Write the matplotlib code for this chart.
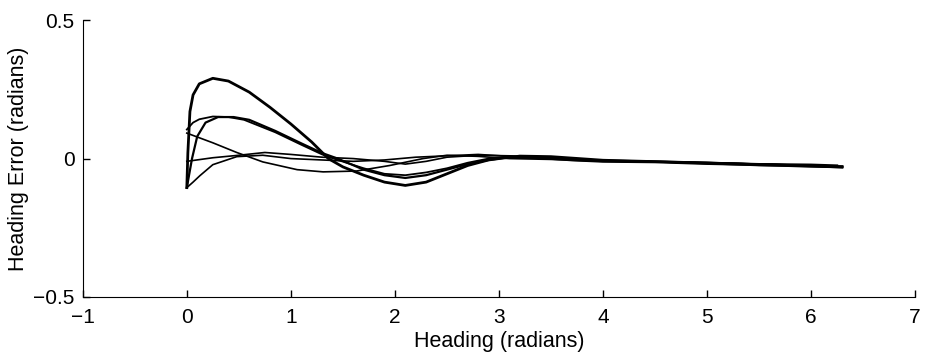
import numpy as np
import matplotlib.pyplot as plt

# heading (x) and heading error (y) for each trial
xa = [0, 0.01, 0.03, 0.06, 0.12, 0.25, 0.4, 0.6, 0.8, 1.0, 1.2, 1.36, 1.5, 1.7, 1.9, 2.1, 2.3, 2.5, 2.7, 2.9, 3.1, 3.4, 3.7, 4.0, 4.5, 5.0, 5.5, 6.0, 6.3]
ya = [-0.105, 0.02, 0.17, 0.23, 0.27, 0.29, 0.28, 0.24, 0.185, 0.125, 0.06, 0.0, -0.03, -0.06, -0.085, -0.097, -0.085, -0.055, -0.025, -0.005, 0.005, 0.003, -0.005, -0.01, -0.012, -0.018, -0.022, -0.028, -0.03]

xb = [0, 0.06, 0.12, 0.25, 0.4, 0.55, 0.85, 1.1, 1.3, 1.45, 1.7, 1.9, 2.1, 2.3, 2.5, 2.7, 2.9, 3.1, 3.5, 4.0, 4.5, 5.0, 5.5, 6.0, 6.3]
yb = [0.105, 0.13, 0.142, 0.152, 0.15, 0.14, 0.095, 0.05, 0.015, -0.005, -0.035, -0.055, -0.06, -0.05, -0.035, -0.015, 0.0, 0.008, 0.005, -0.008, -0.012, -0.015, -0.02, -0.025, -0.028]

xc = [0, 0.05, 0.1, 0.18, 0.3, 0.45, 0.6, 0.85, 1.1, 1.3, 1.45, 1.7, 1.9, 2.1, 2.3, 2.5, 2.7, 2.9, 3.2, 3.5, 4.0, 4.5, 5.0, 5.5, 6.0, 6.25]
yc = [-0.105, 0.0, 0.08, 0.13, 0.15, 0.15, 0.14, 0.1, 0.055, 0.02, 0.0, -0.04, -0.06, -0.07, -0.06, -0.04, -0.02, -0.005, 0.01, 0.008, -0.005, -0.01, -0.015, -0.02, -0.022, -0.025]

xd = [0, 0.25, 0.48, 0.73, 1.06, 1.31, 1.63, 1.95, 2.27, 2.5, 2.8, 3.1, 3.5, 4.0, 4.5, 5.0, 5.5, 6.0, 6.3]
yd = [0.092, 0.057, 0.022, -0.012, -0.04, -0.048, -0.045, -0.025, 0.0, 0.012, 0.008, 0.0, -0.003, -0.01, -0.012, -0.018, -0.025, -0.028, -0.033]

xe = [0, 0.25, 0.5, 0.75, 1.0, 1.3, 1.6, 1.9, 2.1, 2.3, 2.5, 2.8, 3.1, 3.5, 4.0, 4.5, 5.0, 5.5, 6.0, 6.3]
ye = [-0.01, 0.003, 0.012, 0.022, 0.015, 0.005, 0.0, -0.01, -0.02, -0.01, 0.005, 0.012, 0.01, 0.002, -0.006, -0.01, -0.014, -0.02, -0.025, -0.028]

xf = [0, 0.06, 0.125, 0.25, 0.48, 0.73, 1.0, 1.3, 1.6, 1.9, 2.2, 2.5, 2.8, 3.1, 3.5, 4.0, 4.5, 5.0, 5.5, 6.0, 6.3]
yf = [-0.105, -0.085, -0.062, -0.022, 0.007, 0.012, 0.0, -0.005, -0.01, -0.005, 0.005, 0.01, 0.015, 0.008, 0.0, -0.008, -0.012, -0.016, -0.02, -0.026, -0.03]

xticks = [-1, 0, 1, 2, 3, 4, 5, 6, 7]
yticks = [-0.5, 0, 0.5]

plt.rcParams['font.family'] = ['Liberation Sans', 'DejaVu Sans']

fig = plt.figure(figsize=(9.3, 3.6), dpi=100)
ax = fig.add_axes([0.089, 0.175, 0.895, 0.769])

ax.plot(xa, ya, color='black', lw=2.0)
ax.plot(xb, yb, color='black', lw=1.3)
ax.plot(xc, yc, color='black', lw=1.6)
ax.plot(xd, yd, color='black', lw=1.2)
ax.plot(xe, ye, color='black', lw=1.2)
ax.plot(xf, yf, color='black', lw=1.2)

ax.set_xlim(-1, 7)
ax.set_ylim(-0.5, 0.5)
ax.set_xticks(xticks)
ax.set_yticks(yticks)
ax.set_yticklabels(['\u22120.5', '0', '0.5'])
ax.spines['top'].set_visible(False)
ax.spines['right'].set_visible(False)
ax.tick_params(direction='in', length=5, width=1, labelsize=15)
ax.tick_params(axis='x', pad=8)
ax.tick_params(axis='y', pad=6)
ax.set_xlabel('Heading (radians)', fontsize=15.5, labelpad=3)
ax.set_ylabel('Heading Error (radians)', fontsize=15.5, labelpad=3)

fig.savefig('out.png', dpi=100)
